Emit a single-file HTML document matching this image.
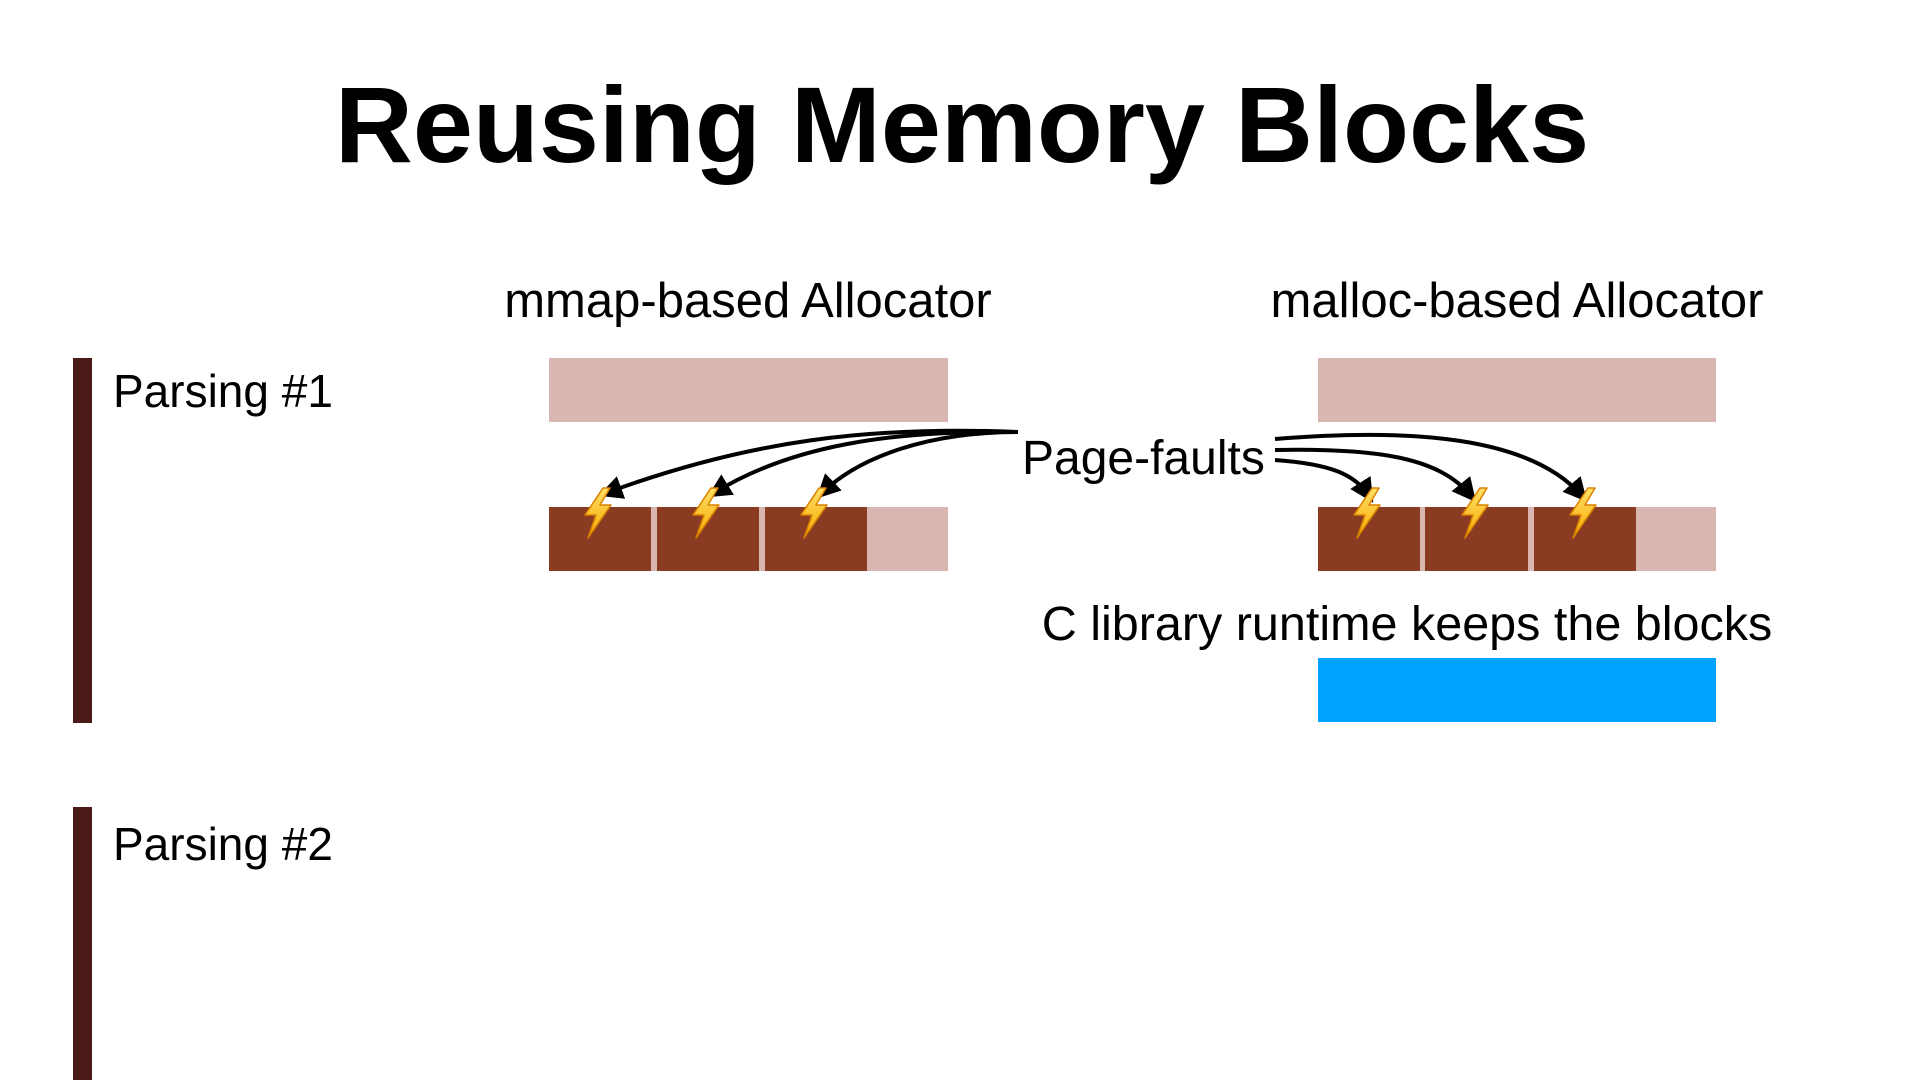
<!DOCTYPE html>
<html><head><meta charset="utf-8"><style>
body{margin:0;width:1920px;height:1080px;background:#fff;position:relative;overflow:hidden;font-family:"Liberation Sans",sans-serif;color:#000}
div{position:absolute}
.t{white-space:nowrap}
.p{background:#D9B6B2}
.d{background:#893C22}
.bar{background:#4A1A18}
</style></head><body>
<div class="t" style="left:0;width:1924px;text-align:center;top:60px;font-size:108px;line-height:130px;font-weight:bold">Reusing Memory Blocks</div>
<div class="t" style="left:448px;width:600px;text-align:center;top:274px;font-size:49px;line-height:54px">mmap-based Allocator</div>
<div class="t" style="left:1217px;width:600px;text-align:center;top:274px;font-size:49px;line-height:54px">malloc-based Allocator</div>
<div class="bar" style="left:73px;top:358px;width:19px;height:365px"></div>
<div class="bar" style="left:73px;top:807px;width:19px;height:273px"></div>
<div class="t" style="left:113px;top:365px;font-size:46px;line-height:52px">Parsing #1</div>
<div class="t" style="left:113px;top:818px;font-size:46px;line-height:52px">Parsing #2</div>
<div class="p" style="left:549px;top:358px;width:399px;height:64px"></div>
<div class="p" style="left:549px;top:507px;width:399px;height:64px"></div>
<div class="d" style="left:549px;top:507px;width:102px;height:64px"></div>
<div class="d" style="left:657px;top:507px;width:102px;height:64px"></div>
<div class="d" style="left:765px;top:507px;width:102px;height:64px"></div>
<div class="p" style="left:1318px;top:358px;width:398px;height:64px"></div>
<div class="p" style="left:1318px;top:507px;width:398px;height:64px"></div>
<div class="d" style="left:1318px;top:507px;width:102px;height:64px"></div>
<div class="d" style="left:1425px;top:507px;width:103px;height:64px"></div>
<div class="d" style="left:1534px;top:507px;width:102px;height:64px"></div>
<div style="left:1318px;top:658px;width:398px;height:64px;background:#00A2FF"></div>
<div class="t" style="left:1022px;top:432px;font-size:48px;line-height:54px">Page-faults</div>
<div class="t" style="left:1007px;width:800px;text-align:center;top:597px;font-size:48.5px;line-height:54px">C library runtime keeps the blocks</div>
<svg width="1920" height="1080" style="position:absolute;left:0;top:0">
<defs><marker id="a" markerWidth="6" markerHeight="6" refX="4" refY="3" orient="auto"><path d="M0,0 L6,3 L0,6 z" fill="#000"/></marker>
<linearGradient id="g" x1="0" y1="0" x2="0" y2="1"><stop offset="0" stop-color="#FFE066"/><stop offset="1" stop-color="#F7A800"/></linearGradient>
<g id="z"><polygon points="5,0 -13,27 -2,27 -10,50 13,17 2,17 12,0" fill="url(#g)" stroke="#D98200" stroke-width="1.5" stroke-linejoin="round"/></g></defs>
<g fill="none" stroke="#000" stroke-width="4" marker-end="url(#a)">
<path d="M1018,432 C870,426 750,440 606,493"/>
<path d="M1018,432 C890,430 790,446 714,493"/>
<path d="M1018,432 C930,432 860,456 822,493"/>
<path d="M1275,439 C1410,428 1530,436 1582,496"/>
<path d="M1275,450 C1380,448 1440,458 1471,496"/>
<path d="M1275,460 C1330,464 1355,474 1369,496"/>
</g>
<use href="#z" x="598" y="488"/><use href="#z" x="706" y="488"/><use href="#z" x="814" y="488"/>
<use href="#z" x="1367" y="488"/><use href="#z" x="1475" y="488"/><use href="#z" x="1583" y="488"/>
</svg>
</body></html>
